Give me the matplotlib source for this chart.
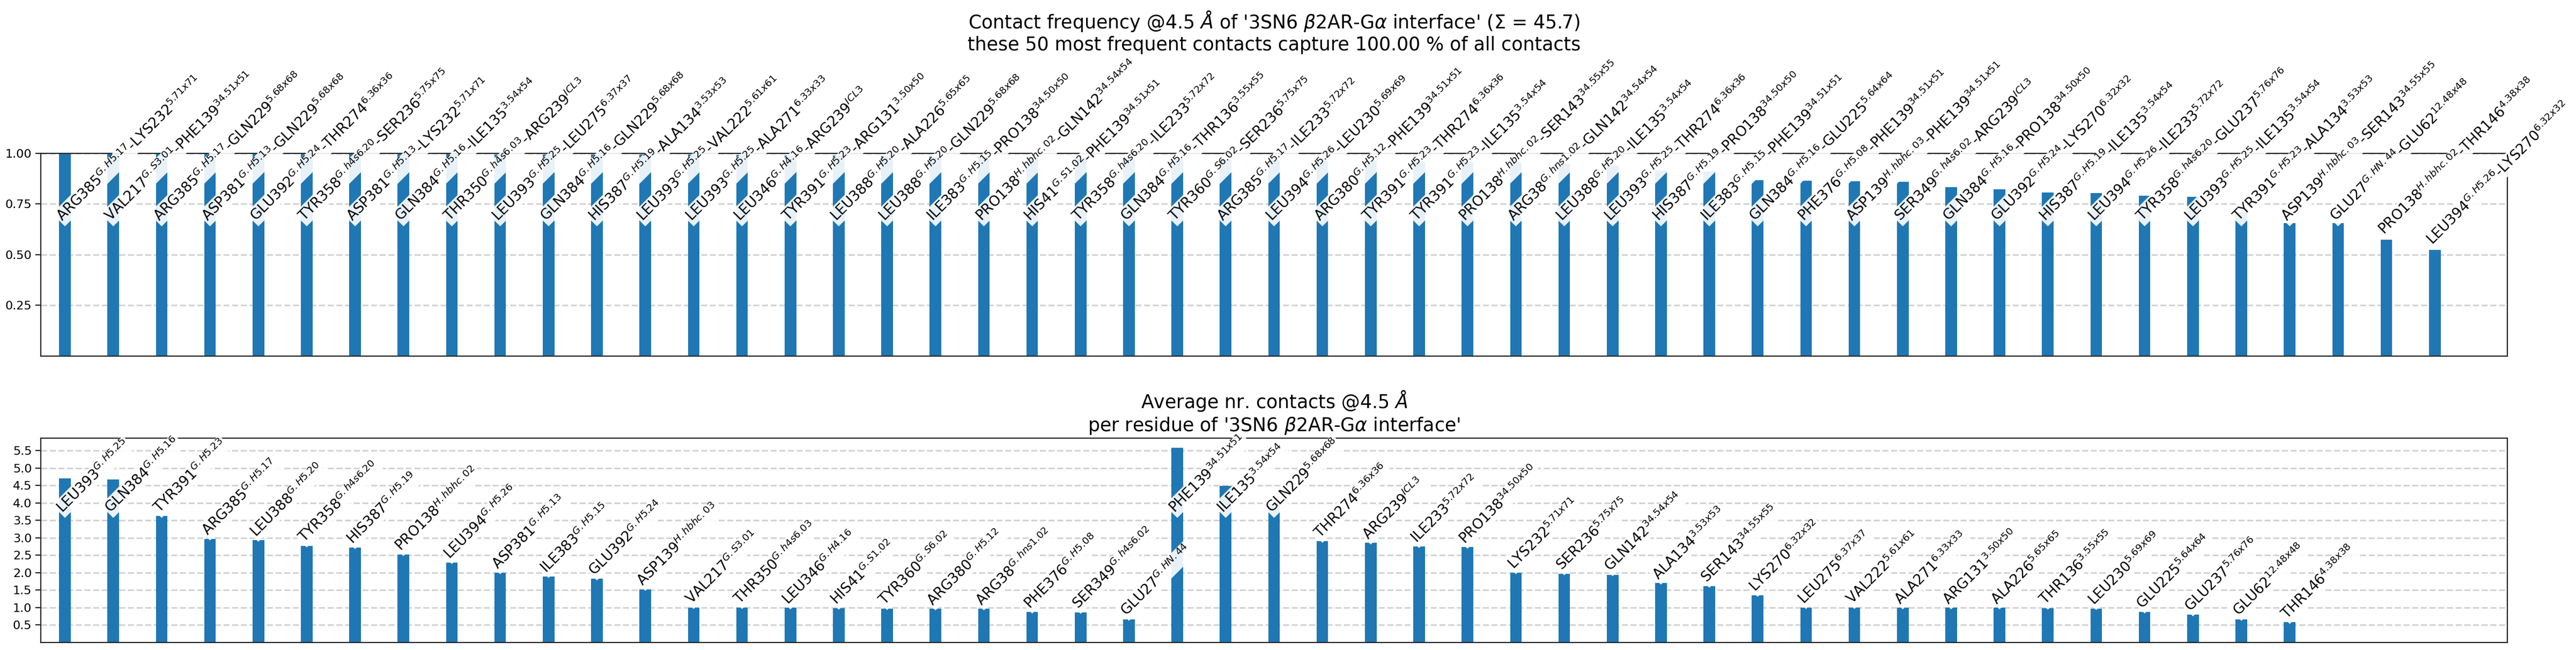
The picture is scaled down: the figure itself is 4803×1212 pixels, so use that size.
import matplotlib.pyplot as plt

# --- top panel: 50 most frequent contacts of the 3SN6 b2AR-Galpha interface
g_res = ["ARG385", "VAL217", "ARG385", "ASP381", "GLU392", "TYR358", "ASP381", "GLN384", "THR350", "LEU393",
         "GLN384", "HIS387", "LEU393", "LEU393", "LEU346", "TYR391", "LEU388", "LEU388", "ILE383", "PRO138",
         "HIS41", "TYR358", "GLN384", "TYR360", "ARG385", "LEU394", "ARG380", "TYR391", "TYR391", "PRO138",
         "ARG38", "LEU388", "LEU393", "HIS387", "ILE383", "GLN384", "PHE376", "ASP139", "SER349", "GLN384",
         "GLU392", "HIS387", "LEU394", "TYR358", "LEU393", "TYR391", "ASP139", "GLU27", "PRO138", "LEU394"]
g_frag = ["G.H5.17", "G.S3.01", "G.H5.17", "G.H5.13", "G.H5.24", "G.h4s6.20", "G.H5.13", "G.H5.16", "G.h4s6.03", "G.H5.25",
          "G.H5.16", "G.H5.19", "G.H5.25", "G.H5.25", "G.H4.16", "G.H5.23", "G.H5.20", "G.H5.20", "G.H5.15", "H.hbhc.02",
          "G.S1.02", "G.h4s6.20", "G.H5.16", "G.S6.02", "G.H5.17", "G.H5.26", "G.H5.12", "G.H5.23", "G.H5.23", "H.hbhc.02",
          "G.hns1.02", "G.H5.20", "G.H5.25", "G.H5.19", "G.H5.15", "G.H5.16", "G.H5.08", "H.hbhc.03", "G.h4s6.02", "G.H5.16",
          "G.H5.24", "G.H5.19", "G.H5.26", "G.h4s6.20", "G.H5.25", "G.H5.23", "H.hbhc.03", "G.HN.44", "H.hbhc.02", "G.H5.26"]
r_res = ["LYS232", "PHE139", "GLN229", "GLN229", "THR274", "SER236", "LYS232", "ILE135", "ARG239", "LEU275",
         "GLN229", "ALA134", "VAL222", "ALA271", "ARG239", "ARG131", "ALA226", "GLN229", "PRO138", "GLN142",
         "PHE139", "ILE233", "THR136", "SER236", "ILE233", "LEU230", "PHE139", "THR274", "ILE135", "SER143",
         "GLN142", "ILE135", "THR274", "PRO138", "PHE139", "GLU225", "PHE139", "PHE139", "ARG239", "PRO138",
         "LYS270", "ILE135", "ILE233", "GLU237", "ILE135", "ALA134", "SER143", "GLU62", "THR146", "LYS270"]
r_frag = ["5.71x71", "34.51x51", "5.68x68", "5.68x68", "6.36x36", "5.75x75", "5.71x71", "3.54x54", "ICL3", "6.37x37",
          "5.68x68", "3.53x53", "5.61x61", "6.33x33", "ICL3", "3.50x50", "5.65x65", "5.68x68", "34.50x50", "34.54x54",
          "34.51x51", "5.72x72", "3.55x55", "5.75x75", "5.72x72", "5.69x69", "34.51x51", "6.36x36", "3.54x54", "34.55x55",
          "34.54x54", "3.54x54", "6.36x36", "34.50x50", "34.51x51", "5.64x64", "34.51x51", "34.51x51", "ICL3", "34.50x50",
          "6.32x32", "3.54x54", "5.72x72", "5.76x76", "3.54x54", "3.53x53", "34.55x55", "12.48x48", "4.38x38", "6.32x32"]
freqs = [1.000, 1.000, 1.000, 1.000, 1.000, 1.000, 1.000, 0.997, 0.997, 0.996,
         0.995, 0.995, 0.995, 0.994, 0.991, 0.990, 0.990, 0.987, 0.985, 0.982,
         0.980, 0.978, 0.975, 0.972, 0.968, 0.965, 0.964, 0.962, 0.960, 0.957,
         0.955, 0.950, 0.940, 0.915, 0.910, 0.868, 0.865, 0.863, 0.860, 0.833,
         0.823, 0.807, 0.804, 0.790, 0.786, 0.708, 0.655, 0.655, 0.574, 0.525]

# --- bottom panel: average nr. of contacts per residue
res_names = ["LEU393", "GLN384", "TYR391", "ARG385", "LEU388", "TYR358", "HIS387", "PRO138", "LEU394", "ASP381",
             "ILE383", "GLU392", "ASP139", "VAL217", "THR350", "LEU346", "HIS41", "TYR360", "ARG380", "ARG38",
             "PHE376", "SER349", "GLU27", "PHE139", "ILE135", "GLN229", "THR274", "ARG239", "ILE233", "PRO138",
             "LYS232", "SER236", "GLN142", "ALA134", "SER143", "LYS270", "LEU275", "VAL222", "ALA271", "ARG131",
             "ALA226", "THR136", "LEU230", "GLU225", "GLU237", "GLU62", "THR146"]
res_frags = ["G.H5.25", "G.H5.16", "G.H5.23", "G.H5.17", "G.H5.20", "G.h4s6.20", "G.H5.19", "H.hbhc.02", "G.H5.26", "G.H5.13",
             "G.H5.15", "G.H5.24", "H.hbhc.03", "G.S3.01", "G.h4s6.03", "G.H4.16", "G.S1.02", "G.S6.02", "G.H5.12", "G.hns1.02",
             "G.H5.08", "G.h4s6.02", "G.HN.44", "34.51x51", "3.54x54", "5.68x68", "6.36x36", "ICL3", "5.72x72", "34.50x50",
             "5.71x71", "5.75x75", "34.54x54", "3.53x53", "34.55x55", "6.32x32", "6.37x37", "5.61x61", "6.33x33", "3.50x50",
             "5.65x65", "3.55x55", "5.69x69", "5.64x64", "5.76x76", "12.48x48", "4.38x38"]
res_avg = [4.71, 4.67, 3.62, 2.97, 2.93, 2.77, 2.72, 2.52, 2.29, 2.00,
           1.89, 1.82, 1.52, 1.00, 1.00, 0.99, 0.98, 0.97, 0.96, 0.96,
           0.87, 0.86, 0.66, 5.58, 4.49, 3.98, 2.90, 2.85, 2.75, 2.73,
           2.00, 1.97, 1.94, 1.70, 1.61, 1.35, 1.00, 1.00, 0.99, 0.99,
           0.99, 0.98, 0.97, 0.87, 0.79, 0.66, 0.57]

top_title = ("Contact frequency @4.5 $\\AA$ of '3SN6 $\\beta$2AR-G$\\alpha$ interface' ($\\Sigma$ = 45.7)\n"
             "these 50 most frequent contacts capture 100.00 % of all contacts")
bottom_title = "Average nr. contacts @4.5 $\\AA$\nper residue of '3SN6 $\\beta$2AR-G$\\alpha$ interface'"

bar_color = "#1f77b4"
spine_color = "#262626"
label_size = 19
tick_size = 16


def sup(res, frag):
    return res + "$^{" + frag + "}$"


def add_tilted_labels(ax, values, labels, trunc):
    # labels start at the bar top, but never higher than trunc
    for ii, (val, lab) in enumerate(zip(values, labels)):
        iy = min(val + 0.01, trunc)
        ax.text(ii, iy, lab, rotation=45, rotation_mode="anchor", ha="left", va="bottom",
                fontsize=label_size, zorder=5, clip_on=False,
                bbox=dict(boxstyle="square,pad=0.1", fc="white", ec="none", alpha=0.9))


def style_axes(ax):
    ax.set_axisbelow(True)
    ax.grid(axis="y", ls="--", lw=2.2, color="#d3d3d3")
    ax.set_xticks([])
    ax.set_xlim(-0.5, 50.5)
    for sp in ax.spines.values():
        sp.set_color(spine_color)
        sp.set_linewidth(1.6)
    ax.tick_params(axis="y", labelsize=tick_size, length=7, width=1.6, pad=5, color=spine_color)


fig = plt.figure(figsize=(48.03, 12.12), dpi=100)
ax1 = fig.add_axes([0.01582, 0.45215, 0.95753, 0.31188])
ax2 = fig.add_axes([0.01582, 0.01196, 0.95753, 0.31395])

# top: contact frequencies
ax1.bar(range(len(freqs)), freqs, width=0.24, color=bar_color)
style_axes(ax1)
ax1.set_ylim(0, 1)
ax1.set_yticks([0.25, 0.5, 0.75, 1.0])
ax1.set_yticklabels(["0.25", "0.50", "0.75", "1.00"])
top_labels = [sup(a, fa) + "-" + sup(b, fb) for a, fa, b, fb in zip(g_res, g_frag, r_res, r_frag)]
add_tilted_labels(ax1, freqs, top_labels, 0.65)
ax1.set_title(top_title, fontsize=25, pad=138)

# bottom: per residue averages
ax2.bar(range(len(res_avg)), res_avg, width=0.24, color=bar_color)
style_axes(ax2)
ymax = max(res_avg)
ax2.set_ylim(0, ymax * 1.05)
ax2.set_yticks([0.5, 1.0, 1.5, 2.0, 2.5, 3.0, 3.5, 4.0, 4.5, 5.0, 5.5])
bottom_labels = [sup(a, fa) for a, fa in zip(res_names, res_frags)]
add_tilted_labels(ax2, res_avg, bottom_labels, ymax * 0.65)
ax2.set_title(bottom_title, fontsize=25, pad=9)

fig.savefig("out.png", dpi=100)
